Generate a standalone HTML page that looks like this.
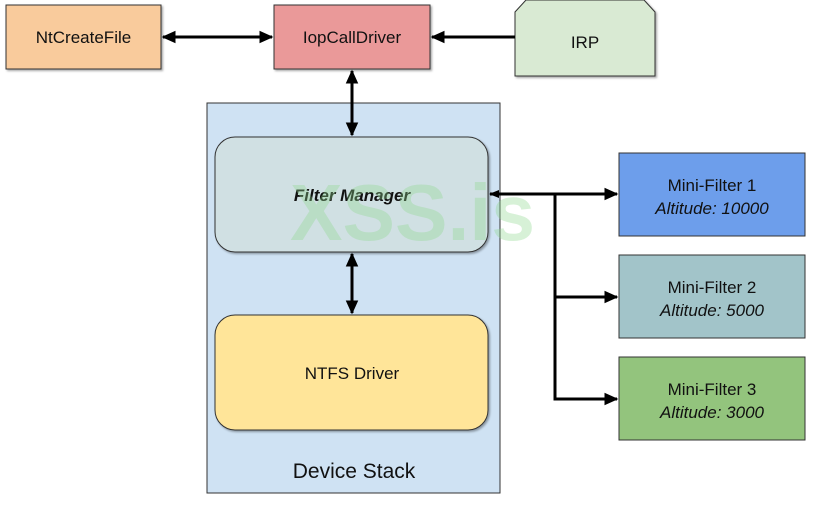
<!DOCTYPE html>
<html><head><meta charset="utf-8"><style>
html,body{margin:0;padding:0;background:#fff;width:820px;height:507px;overflow:hidden}
svg{display:block}
text{font-family:"Liberation Sans",Arial,sans-serif;fill:#111}
</style></head><body>
<svg width="820" height="507" viewBox="0 0 820 507" xmlns="http://www.w3.org/2000/svg">
<defs>
<filter id="sh" x="-10%" y="-10%" width="130%" height="130%"><feDropShadow dx="1.5" dy="1.5" stdDeviation="1" flood-color="#000" flood-opacity="0.35"/></filter>
<marker id="ah" viewBox="0 0 10 10" refX="9" refY="5" markerWidth="14" markerHeight="14" orient="auto-start-reverse" markerUnits="userSpaceOnUse"><path d="M0,0.5 L10,5 L0,9.5 z" fill="#000"/></marker>
<marker id="ahs" viewBox="0 0 10 10" refX="9" refY="5" markerWidth="10" markerHeight="10" orient="auto-start-reverse" markerUnits="userSpaceOnUse"><path d="M0,1 L10,5 L0,9 z" fill="#000"/></marker>
</defs>
<rect x="6" y="5" width="155" height="64" fill="#f9cb9c" stroke="#333" stroke-width="1" filter="url(#sh)"/>
<text x="83.5" y="43" font-size="17" text-anchor="middle">NtCreateFile</text>
<rect x="274" y="5" width="156" height="64" fill="#ea9999" stroke="#333" stroke-width="1" filter="url(#sh)"/>
<text x="352" y="43" font-size="17" text-anchor="middle">IopCallDriver</text>
<path d="M526,0 L644,0 L655,12 L655,76 L515,76 L515,12 Z" fill="#d9ead3" stroke="#333" stroke-width="1" filter="url(#sh)"/>
<text x="585" y="48" font-size="17" text-anchor="middle">IRP</text>
<rect x="207" y="103" width="293" height="390" fill="#cfe2f3" stroke="#333" stroke-width="1"/>
<text x="354" y="478" font-size="21" text-anchor="middle">Device Stack</text>
<rect x="215" y="137" width="273" height="115" rx="20" fill="#d0e0e3" stroke="#333" stroke-width="1" filter="url(#sh)"/>
<text x="352" y="201" font-size="17" font-weight="bold" font-style="italic" text-anchor="middle">Filter Manager</text>
<rect x="215" y="315" width="273" height="115" rx="20" fill="#ffe599" stroke="#333" stroke-width="1" filter="url(#sh)"/>
<text x="352" y="379" font-size="17" text-anchor="middle">NTFS Driver</text>
<rect x="619" y="153" width="186" height="83" fill="#6d9eeb" stroke="#333" stroke-width="1"/>
<text x="712" y="191" font-size="17" text-anchor="middle">Mini-Filter 1</text>
<text x="712" y="214" font-size="17" font-style="italic" text-anchor="middle">Altitude: 10000</text>
<rect x="619" y="255" width="186" height="83" fill="#a2c4c9" stroke="#333" stroke-width="1"/>
<text x="712" y="293" font-size="17" text-anchor="middle">Mini-Filter 2</text>
<text x="712" y="316" font-size="17" font-style="italic" text-anchor="middle">Altitude: 5000</text>
<rect x="619" y="357" width="186" height="83" fill="#93c47d" stroke="#333" stroke-width="1"/>
<text x="712" y="395" font-size="17" text-anchor="middle">Mini-Filter 3</text>
<text x="712" y="418" font-size="17" font-style="italic" text-anchor="middle">Altitude: 3000</text>
<g stroke="#000" stroke-width="3" fill="none">
<line x1="163" y1="37" x2="272" y2="37" marker-start="url(#ah)" marker-end="url(#ah)"/>
<line x1="515" y1="37" x2="432" y2="37" marker-end="url(#ah)"/>
<line x1="352" y1="71" x2="352" y2="135" marker-start="url(#ah)" marker-end="url(#ah)"/>
<line x1="352" y1="254" x2="352" y2="313" marker-start="url(#ah)" marker-end="url(#ah)"/>
<line x1="555" y1="194" x2="490" y2="194" marker-end="url(#ahs)"/>
<line x1="555" y1="194" x2="617" y2="194" marker-end="url(#ah)"/>
<line x1="555" y1="192.5" x2="555" y2="400.5"/>
<line x1="555" y1="297" x2="617" y2="297" marker-end="url(#ah)"/>
<line x1="555" y1="399" x2="617" y2="399" marker-end="url(#ah)"/>
</g>
<text x="290" y="240" font-size="80" font-weight="bold" textLength="245" lengthAdjust="spacingAndGlyphs" style="fill:#8fd88f;opacity:0.35">XSS.is</text>
</svg>
</body></html>
